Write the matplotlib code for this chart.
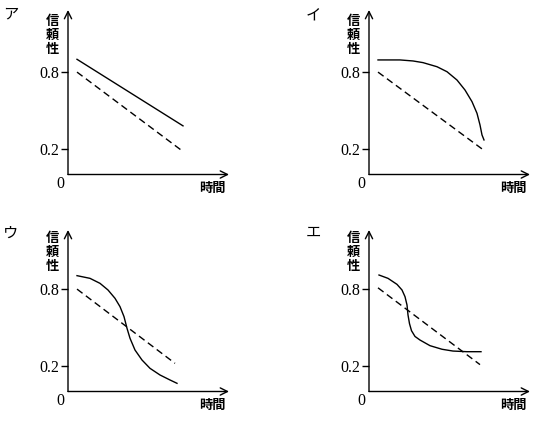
import matplotlib
matplotlib.use('Agg')
import matplotlib.pyplot as plt

plt.rcParams['font.family'] = ['Noto Sans CJK JP', 'DejaVu Sans']

W, H = 547, 423

# panel names and the two tick values on the reliability axis
panels = ['ア', 'イ', 'ウ', 'エ']
tick_vals = [0.2, 0.8]
tick_labels = ['0.2', '0.8']

# dashed reference line (same in every panel, end time differs a little)
ref_t = {'ア': [0.9, 11.5], 'イ': [0.9, 11.3], 'ウ': [0.9, 10.7], 'エ': [0.9, 11.1]}
ref_r = {'ア': [0.80, 0.18], 'イ': [0.80, 0.20], 'ウ': [0.80, 0.22], 'エ': [0.81, 0.21]}

# solid curves
a_t = [0.9, 11.5]
a_r = [0.90, 0.38]

i_t = [0.9, 3.1, 4.4, 5.4, 6.8, 7.8, 8.8, 9.6, 10.3, 10.8, 11.1, 11.3, 11.5]
i_r = [0.895, 0.895, 0.887, 0.874, 0.842, 0.803, 0.738, 0.66, 0.569, 0.478,
       0.387, 0.309, 0.27]

u_t = [0.9, 2.2, 3.2, 4.0, 4.7, 5.2, 5.6, 5.9, 6.2, 6.7, 7.4, 8.2, 9.2,
       10.2, 10.9]
u_r = [0.905, 0.884, 0.845, 0.793, 0.728, 0.663, 0.585, 0.494, 0.416, 0.324,
       0.246, 0.181, 0.129, 0.09, 0.064]

e_t = [1.0, 1.9, 2.8, 3.3, 3.6, 3.8, 3.9, 4.05, 4.25, 4.6, 5.1, 6.1, 7.3,
       8.4, 9.8, 11.2]
e_r = [0.91, 0.884, 0.837, 0.793, 0.741, 0.676, 0.598, 0.53, 0.475, 0.43,
       0.402, 0.358, 0.33, 0.316, 0.311, 0.311]

solid_t = {'ア': a_t, 'イ': i_t, 'ウ': u_t, 'エ': e_t}
solid_r = {'ア': a_r, 'イ': i_r, 'ウ': u_r, 'エ': e_r}

# origin of each panel in image pixels (x from left, y from top) and top of y arrow
origins = {'ア': (68, 174.5, 10), 'イ': (369, 174.5, 10),
           'ウ': (68, 391.5, 230), 'エ': (369, 391.5, 230)}
letter_pos = {'ア': (11, 14), 'イ': (313, 16), 'ウ': (11, 233), 'エ': (313, 232)}

px_per_unit = 128.0
x_len = 161.0

fig = plt.figure(figsize=(W / 100, H / 100), dpi=100)

def fx(px):
    return px / W

def fy(py):
    return 1 - py / H

for name in panels:
    ox, oy, top = origins[name]
    ax = fig.add_axes([fx(ox), fy(oy), x_len / W, (oy - top) / H])
    ax.set_xlim(0, 16.1)
    ax.set_ylim(0, (oy - top) / px_per_unit)
    for s in ax.spines.values():
        s.set_visible(False)

    # axes drawn as arrows
    ax.annotate('', xy=(1, 0), xytext=(0, 0), xycoords='axes fraction',
                arrowprops=dict(arrowstyle='->', lw=1.0, color='black',
                                mutation_scale=13, shrinkA=0, shrinkB=0))
    ax.annotate('', xy=(0, 1), xytext=(0, 0), xycoords='axes fraction',
                arrowprops=dict(arrowstyle='->', lw=1.0, color='black',
                                mutation_scale=13, shrinkA=0, shrinkB=0))

    ax.set_xticks([])
    ax.set_yticks(tick_vals)
    ax.set_yticklabels(tick_labels, family='Liberation Serif', fontsize=11.5)
    ax.tick_params(axis='y', direction='out', length=5, width=1.0, pad=1)

    ax.plot(ref_t[name], ref_r[name], color='black', lw=1.0,
            linestyle=(0, (5, 3)))
    ax.plot(solid_t[name], solid_r[name], color='black', lw=1.0,
            solid_joinstyle='round')

    # labels
    fig.text(fx(ox - 8), fy(oy + 9.5), '0', family='Liberation Serif',
             fontsize=11.5, ha='center', va='center')
    fig.text(fx(ox - 16), fy(oy - 139.5), '信\n頼\n性', fontsize=9.5,
             fontweight='bold', ha='center', va='center', linespacing=1.0)
    fig.text(fx(ox + 144.5), fy(oy + 13), '時間', fontsize=9.5,
             fontweight='bold', ha='center', va='center')
    lx, ly = letter_pos[name]
    fig.text(fx(lx), fy(ly), name, fontsize=11, ha='center', va='center')

fig.savefig('out.png', dpi=100, facecolor='white')
